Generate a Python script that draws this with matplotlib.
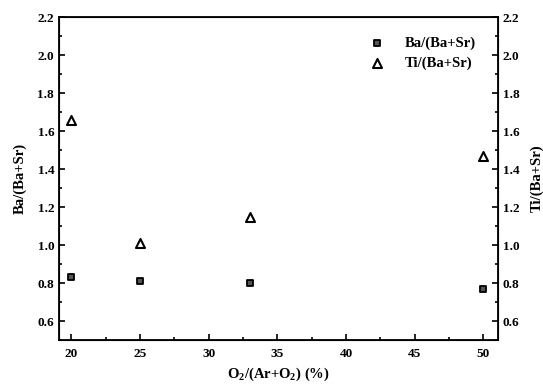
import matplotlib
matplotlib.use("Agg")
import matplotlib.pyplot as plt
from matplotlib.ticker import MultipleLocator

o2 = [20, 25, 33, 50]
ba_ratio = [0.83, 0.81, 0.80, 0.77]
ti_ratio = [1.66, 1.01, 1.15, 1.47]

plt.rcParams['font.family'] = ['Liberation Serif', 'DejaVu Serif']
plt.rcParams['font.weight'] = 'bold'
plt.rcParams['mathtext.fontset'] = 'custom'
plt.rcParams['mathtext.rm'] = 'Liberation Serif:bold'
plt.rcParams['mathtext.bf'] = 'Liberation Serif:bold'

fig = plt.figure(figsize=(5.43, 3.88), dpi=100)
ax = fig.add_axes([0.1087, 0.1237, 0.808, 0.832])
ax.scatter(o2, ba_ratio, marker='s', s=14, facecolor='#555555', edgecolor='black',
           linewidths=1.3, label='Ba/(Ba+Sr)', zorder=3)
ax.scatter(o2, ti_ratio, marker='^', s=42, facecolor='white', edgecolor='black',
           linewidths=1.5, label='Ti/(Ba+Sr)', zorder=3)
ax.set_xlim(19.1, 51.05)
ax.set_ylim(0.5, 2.2)
ax.xaxis.set_major_locator(MultipleLocator(5))
ax.xaxis.set_minor_locator(MultipleLocator(2.5))
ax.yaxis.set_major_locator(MultipleLocator(0.2))
ax.yaxis.set_minor_locator(MultipleLocator(0.1))
ax.tick_params(which='both', direction='in', top=False, right=False, width=1.2, labelsize=9.5)
ax.tick_params(which='major', length=4.5)
ax.tick_params(which='minor', length=2.5)
ax.tick_params(axis='x', pad=6)
for s in ax.spines.values():
    s.set_linewidth(1.3)
ax.set_xlabel(r'O$_\mathbf{2}$/(Ar+O$_\mathbf{2}$) (%)', fontsize=10.5, fontweight='bold', labelpad=4)
ax.set_ylabel('Ba/(Ba+Sr)', fontsize=10.5, fontweight='bold', labelpad=8)

ax2 = ax.twinx()
ax2.set_ylim(0.5, 2.2)
ax2.yaxis.set_major_locator(MultipleLocator(0.2))
ax2.yaxis.set_minor_locator(MultipleLocator(0.1))
ax2.tick_params(which='both', direction='in', width=1.2, labelsize=9.5)
ax2.tick_params(which='major', length=4.5)
ax2.tick_params(which='minor', length=2.5)
ax2.set_ylabel('Ti/(Ba+Sr)', fontsize=10.5, fontweight='bold', labelpad=8)

leg = ax.legend(loc='upper right', frameon=False, fontsize=10.5, handletextpad=0.9,
                borderaxespad=0.5, labelspacing=0.45, bbox_to_anchor=(0.98, 0.98))

fig.savefig('out.png', dpi=100)
